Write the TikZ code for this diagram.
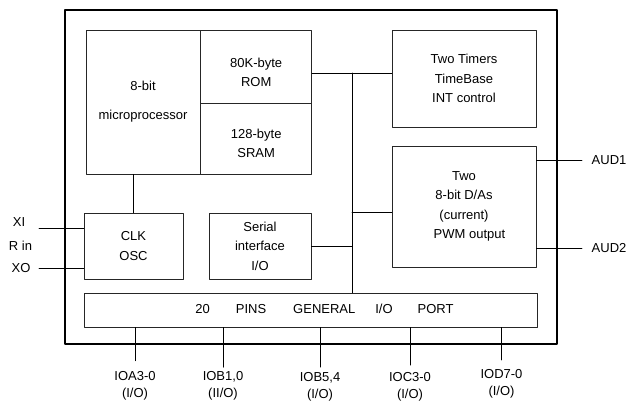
\documentclass[tikz,border=0pt]{standalone}
\usepackage{fontspec}
\setmainfont{Liberation Sans}
\usetikzlibrary{positioning}

\begin{document}
\begin{tikzpicture}[x=1pt, y=-1pt, line cap=round, line join=round,
  blk/.style={draw=black!85, line width=0.7pt, align=center, inner sep=0pt,
    font=\fontsize{13}{19.5}\selectfont},
  txt/.style={align=center, inner sep=0pt, font=\fontsize{13}{17}\selectfont},
  wire/.style={draw=black, line width=0.7pt}]
  \useasboundingbox (0,0) rectangle (628,401);
  % chip outline
  \draw[line width=1.1pt] (65,10) rectangle (557,344);

  \node[blk, minimum width=114pt, minimum height=144pt] (micro) at (143,102)
    {8-bit\\[9.5pt]microprocessor};
  \node[blk, minimum width=111pt, minimum height=73pt, anchor=north west]
    (rom) at (micro.north east) {\rule{0pt}{21pt}80K-byte\\ROM};
  \node[blk, minimum width=111pt, minimum height=71pt, below=0pt of rom]
    (sram) {\rule{0pt}{17.5pt}128-byte\\SRAM};
  \node[blk, minimum width=144pt, minimum height=97pt] (timers) at (464,78.5)
    {Two Timers\\TimeBase\\INT control};
  \node[blk, minimum width=144pt, minimum height=121pt] (dac) at (464,206.5)
    {Two\\8-bit D/As\\(current)\\\hspace{11pt}PWM output};
  \node[blk, minimum width=99pt, minimum height=66pt] (clk) at (133.5,246)
    {CLK\\OSC};
  \node[blk, minimum width=102pt, minimum height=66pt] (serial) at (260,246)
    {Serial\\interface\\I/O};
  \node[blk, minimum width=453pt, minimum height=34pt] (port) at (310.5,310) {};
  \node[txt] (porttxt) at (324.5,309)
    {20\hspace{26pt}PINS\hspace{27pt}GENERAL\hspace{20pt}I/O\hspace{25pt}PORT};

  % internal bus
  \coordinate (bustop) at (352,73);
  \coordinate (daclink) at (352,212);
  \draw[wire] (rom.east |- bustop) -- (timers.west |- bustop);
  \draw[wire] (bustop) -- (bustop |- port.north);
  \draw[wire] (daclink) -- (daclink -| dac.west);
  \draw[wire] (serial.east) -- (serial.east -| bustop);
  \draw[wire] (clk.north) -- (clk.north |- micro.south);

  % clock pins
  \node[txt] (xi) at (19,222) {XI};
  \node[txt] (rin) at (20.5,246) {R in};
  \node[txt] (xo) at (21,268) {XO};
  \coordinate (xiend) at (39,228);
  \draw[wire] (xiend) -- (xiend -| clk.west);
  \draw[wire] ([xshift=8.5pt]xo.east) -- (xo -| clk.west);

  % audio outputs
  \node[txt, anchor=west] (aud1) at (591.5,160) {AUD1};
  \node[txt, anchor=west] (aud2) at (591.5,248) {AUD2};
  \draw[wire] (dac.east |- aud1) -- ([xshift=-9.5pt]aud1.west);
  \draw[wire] (dac.east |- aud2) -- ([xshift=-9.5pt]aud2.west);

  % port pins
  \node[txt] (ioa) at (135,385.4) {IOA3-0\\(I/O)};
  \node[txt] (iob) at (223,385.8) {IOB1,0\\(II/O)};
  \node[txt] (iobb) at (320,387.2) {IOB5,4\\(I/O)};
  \node[txt] (ioc) at (410,387.2) {IOC3-0\\(I/O)};
  \node[txt] (iod) at (501.5,384) {IOD7-0\\(I/O)};
  \foreach \p/\g in {ioa/10,iob/4,iobb/5.5,ioc/7.5,iod/9.4}
    \draw[wire] (port.south -| \p) -- ([yshift=\g pt]\p.north);
\end{tikzpicture}
\end{document}
